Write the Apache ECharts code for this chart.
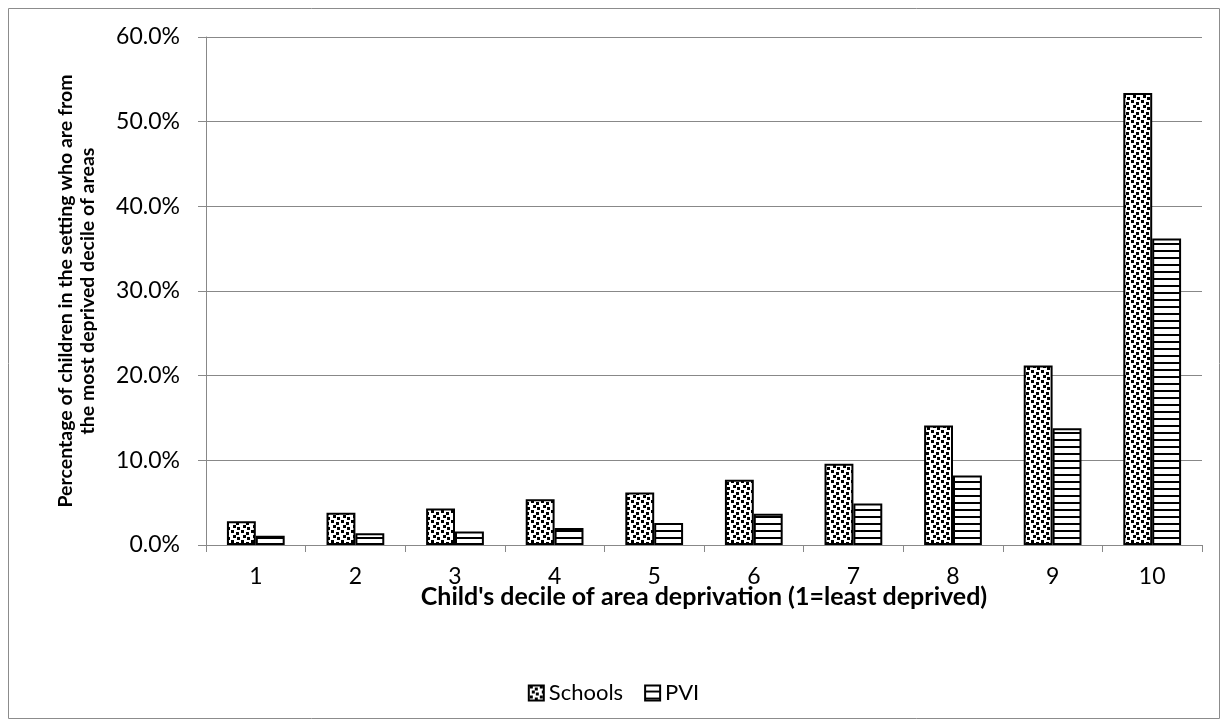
<!DOCTYPE html>
<html>
<head>
<meta charset="utf-8">
<script src="https://cdn.jsdelivr.net/npm/echarts@6/dist/echarts.min.js"></script>
<style>html,body{margin:0;padding:0;background:#fff}#c{width:1227px;height:727px}</style>
</head>
<body>
<div id="c"></div>
<script>
const categories = ['1','2','3','4','5','6','7','8','9','10'];
const schools = [2.8, 3.8, 4.3, 5.4, 6.2, 7.7, 9.6, 14.1, 21.2, 53.4];
const pvi = [1.1, 1.4, 1.6, 2.0, 2.6, 3.7, 4.9, 8.2, 13.8, 36.2];
const yTicks = [0, 10, 20, 30, 40, 50, 60];

function dotPattern() {
  const c = document.createElement('canvas');
  c.width = 10; c.height = 10;
  const g = c.getContext('2d');
  g.fillStyle = '#fff'; g.fillRect(0, 0, 10, 10);
  g.fillStyle = '#000';
  [[1,0],[6,2],[3,5],[7,7]].forEach(p => g.fillRect(p[0], p[1], 3, 3));
  return c;
}
function linePattern() {
  const c = document.createElement('canvas');
  c.width = 8; c.height = 7;
  const g = c.getContext('2d');
  g.fillStyle = '#fff'; g.fillRect(0, 0, 8, 7);
  g.fillStyle = '#000';
  g.fillRect(0, 5, 8, 2);
  return c;
}

const chart = echarts.init(document.getElementById('c'));
const font = 'Lato, "Open Sans", sans-serif';
chart.setOption({
  animation: false,
  textStyle: { fontFamily: font },
  graphic: [{
    type: 'rect', shape: { x: 8.5, y: 8.5, width: 1211, height: 710 },
    style: { fill: 'none', stroke: '#8c8c8c', lineWidth: 1 }, silent: true
  }],
  grid: { left: 206, right: 25, top: 37, bottom: 182 },
  legend: {
    bottom: 18, left: 'center', itemWidth: 15, itemHeight: 15, itemGap: 21, icon: 'rect',
    textStyle: { fontSize: 22, color: '#000', fontFamily: font },
    data: ['Schools', 'PVI']
  },
  xAxis: {
    type: 'category', data: categories,
    name: "Child's decile of area deprivation (1=least deprived)",
    nameLocation: 'middle', nameGap: 39, nameMoveOverlap: false,
    nameTextStyle: { fontSize: 25, fontWeight: 'bold', color: '#000' },
    axisLine: { lineStyle: { color: '#888', width: 1 } },
    axisTick: { show: true, length: 7, lineStyle: { color: '#888' } },
    axisLabel: { fontSize: 23, color: '#000', margin: 20 }
  },
  yAxis: {
    type: 'value', min: 0, max: 60, interval: 10,
    name: 'Percentage of children in the setting who are from\nthe most deprived decile of areas',
    nameLocation: 'middle', nameGap: 107,
    nameTextStyle: { fontSize: 19.5, fontWeight: 'bold', color: '#000', lineHeight: 22 },
    axisLine: { show: true, lineStyle: { color: '#888', width: 1 } },
    axisTick: { show: true, length: 8, lineStyle: { color: '#888' } },
    splitLine: { lineStyle: { color: '#888', width: 1 } },
    axisLabel: { fontSize: 23, color: '#000', margin: 26,
      formatter: v => yTicks.includes(v) ? v.toFixed(1) + '%' : '' }
  },
  series: [
    { name: 'Schools', type: 'bar', data: schools, barGap: '0%', barCategoryGap: '42%',
      itemStyle: { color: { image: dotPattern(), repeat: 'repeat' }, borderColor: '#000', borderWidth: 2 } },
    { name: 'PVI', type: 'bar', data: pvi, barGap: '0%', barCategoryGap: '42%',
      itemStyle: { color: { image: linePattern(), repeat: 'repeat' }, borderColor: '#000', borderWidth: 2 } }
  ]
});
</script>
</body>
</html>
